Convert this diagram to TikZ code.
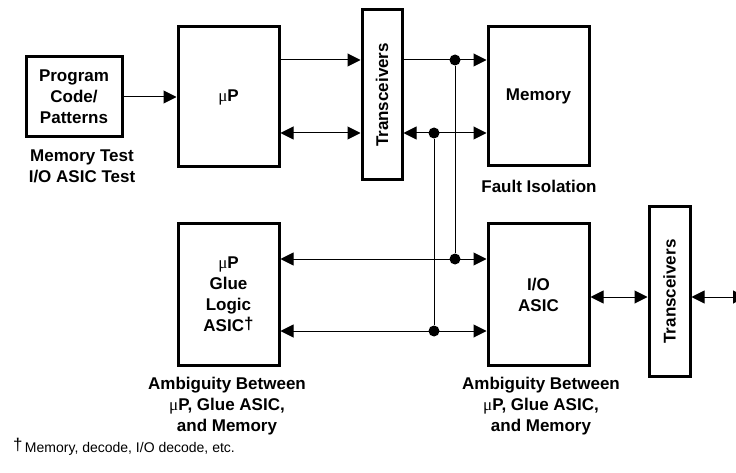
\documentclass[tikz,border=0pt]{standalone}
\usepackage{fontspec}
\setmainfont{Liberation Sans}
\newfontfamily\mufont{Liberation Serif}
\usetikzlibrary{arrows.meta}
\newcommand{\muP}{{\mufont\mdseries μ}P}
\begin{document}
\begin{tikzpicture}[x=1pt,y=-1pt,
  box/.style={draw,line width=3pt,inner sep=0pt,align=center,font=\bfseries\fontsize{17}{21}\selectfont},
  lbl/.style={align=center,inner sep=0pt,font=\bfseries\fontsize{17}{21}\selectfont},
  conn/.style={line width=1pt},
  tip/.style={-{Triangle[length=13pt,width=13pt]}},
  dtip/.style={{Triangle[length=13pt,width=13pt]}-{Triangle[length=13pt,width=13pt]}},
  dot/.style={circle,fill,inner sep=0pt,minimum size=11pt}]
\useasboundingbox (0,0) rectangle (736,473);
\clip (0,0) rectangle (736,473);
% boxes
\node[box,minimum width=96pt,minimum height=80pt] (prog) at (74,97) {Program\\Code/\\Patterns};
\node[box,minimum width=101pt,minimum height=140pt] (up) at (228.5,97) {\muP};
\node[box,minimum width=40pt,minimum height=170pt] (tr1) at (382,95) {\rotatebox{90}{Transceivers}};
\node[box,minimum width=101pt,minimum height=139pt] (mem) at (538.5,96.5) {Memory};
\node[box,minimum width=101pt,minimum height=141pt] (glue) at (228.5,294.5) {\muP\\Glue\\Logic\\ASIC\raisebox{2pt}{†}};
\node[box,minimum width=101pt,minimum height=141pt] (asic) at (538.5,294.5) {I/O\\ASIC};
\node[box,minimum width=41pt,minimum height=169pt] (tr2) at (669.5,291.5) {\rotatebox{90}{Transceivers}};
% labels
\node[lbl] (l1) at (82,166.5) {Memory Test\\I/O ASIC Test};
\node[lbl] (l2) at (539,186) {Fault Isolation};
\node[lbl] (l3) at (227,406) {Ambiguity Between\\\muP, Glue ASIC,\\and Memory};
\node[lbl] (l4) at (541,406) {Ambiguity Between\\\muP, Glue ASIC,\\and Memory};
\node[anchor=west,inner sep=0pt,font=\fontsize{14}{17}\selectfont] (fn) at (13,447) {\raisebox{2pt}{\fontsize{17}{17}\selectfont †}\,Memory, decode, I/O decode, etc.};
% row / column coordinates
\coordinate (rA) at (0,60);
\coordinate (rB) at (0,133);
\coordinate (rC) at (0,259);
\coordinate (rD) at (0,331);
\coordinate (rE) at (0,297);
\coordinate (c1) at (455,0);
\coordinate (c2) at (434,0);
\node[dot] (dA) at (c1|-rA) {};
\node[dot] (dB) at (c2|-rB) {};
\node[dot] (dC) at (c1|-rC) {};
\node[dot] (dD) at (c2|-rD) {};
\coordinate (rin) at (746,297);
% connectors
\draw[conn,tip] (prog.east|-up.west) -- (up.west);
\draw[conn,tip] (up.east|-rA) -- (tr1.west|-rA);
\draw[conn,dtip] (up.east|-rB) -- (tr1.west|-rB);
\draw[conn,tip] (tr1.east|-rA) -- (mem.west|-rA);
\draw[conn,dtip] (tr1.east|-rB) -- (mem.west|-rB);
\draw[conn,dtip] (glue.east|-rC) -- (asic.west|-rC);
\draw[conn,dtip] (glue.east|-rD) -- (asic.west|-rD);
\draw[conn] (dA) -- (dC);
\draw[conn] (dB) -- (dD);
\draw[conn,dtip] (asic.east|-rE) -- (tr2.west|-rE);
\draw[conn,dtip] (tr2.east|-rE) -- (rin);
\end{tikzpicture}
\end{document}
